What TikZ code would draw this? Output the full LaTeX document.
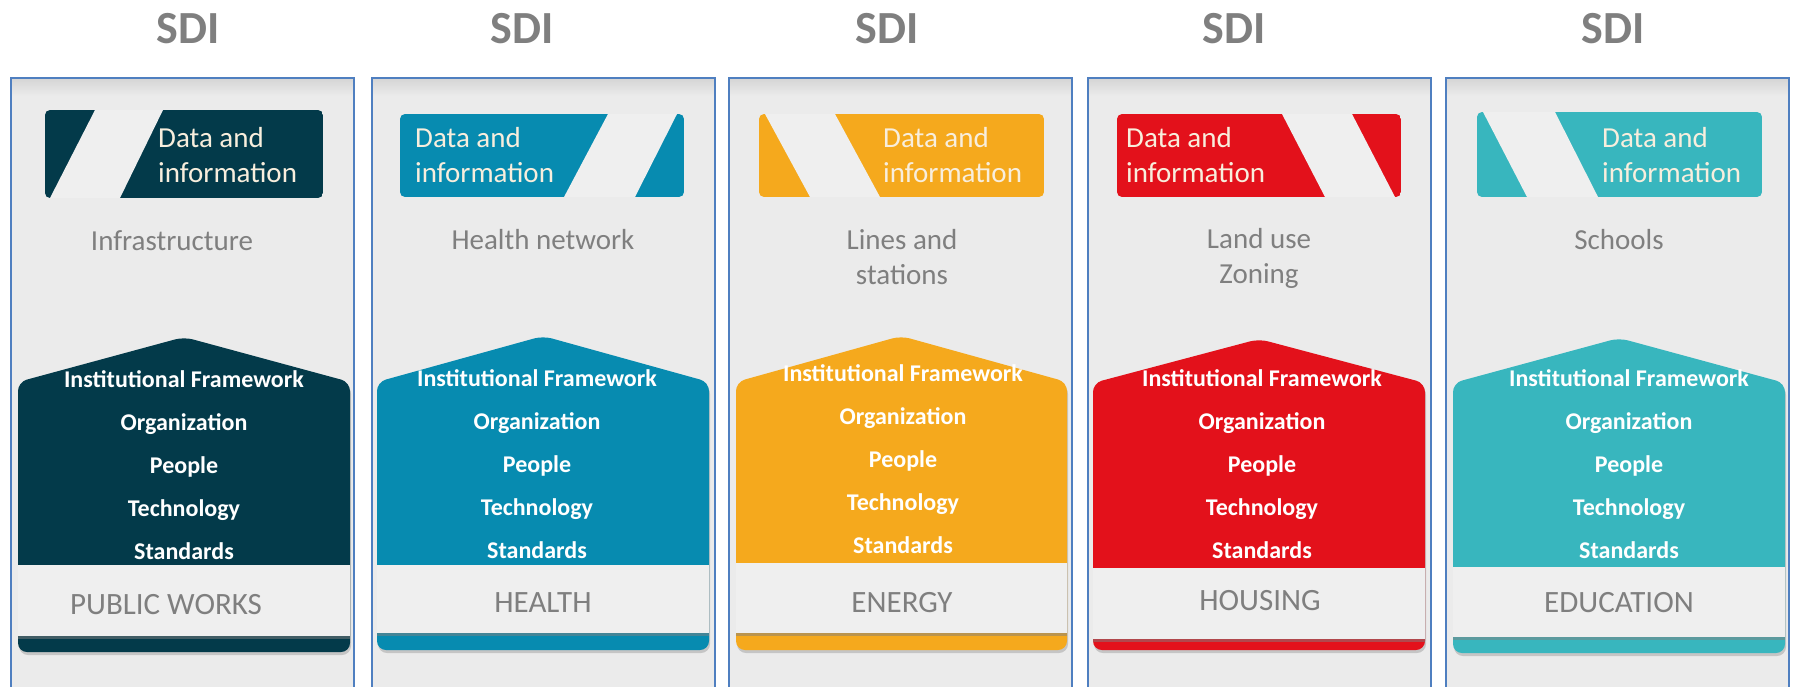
\documentclass[tikz,border=0pt]{standalone}
\usepackage{fontspec}
\setmainfont{Carlito}
\usetikzlibrary{shadows}
\definecolor{cA}{HTML}{033A4A}
\definecolor{cB}{HTML}{078BB0}
\definecolor{cC}{HTML}{F5A91D}
\definecolor{cD}{HTML}{E3111B}
\definecolor{cE}{HTML}{38B6BE}
\definecolor{panelbg}{HTML}{EBEBEB}
\definecolor{panelblue}{HTML}{4F7FC0}
\definecolor{shadegray}{HTML}{D6D6D6}
\definecolor{stripegray}{HTML}{EFEFEF}
\definecolor{subgray}{HTML}{7F7F7F}
\definecolor{cream}{HTML}{F8EEDD}
\begin{document}
\begin{tikzpicture}[x=1pt,y=-1pt,
  panelline/.style={draw=panelblue, line width=1.5pt},
  sditxt/.style={font=\bfseries\fontsize{46}{46}\selectfont, text=subgray, anchor=base, inner sep=0pt},
  datatxt/.style={font=\fontsize{29}{35}\selectfont, text=cream, align=left, anchor=base west, inner sep=0pt},
  subtxt/.style={font=\fontsize{29}{35}\selectfont, text=subgray, align=center, anchor=base, inner sep=0pt},
  housetxt/.style={font=\bfseries\fontsize{24}{43}\selectfont, text=white, align=center, anchor=base, inner sep=0pt},
  lbltxt/.style={font=\fontsize{31}{31}\selectfont, text=subgray, anchor=base, inner sep=0pt},
  housebody/.style={rounded corners=9pt, drop shadow={shadow xshift=1pt, shadow yshift=-3pt, opacity=0.35}},
  whitebox/.style={fill=stripegray, drop shadow={shadow xshift=0pt, shadow yshift=-3pt, opacity=0.5}},
  stripe/.style={fill=stripegray}
]
\useasboundingbox (0,0) rectangle (1793,686);
\fill[white] (0,0) rectangle (1793,686);
\clip (0,0) rectangle (1793,686);

% ---------- panels ----------
\foreach \L in {11,372,729,1088,1446}{
  \fill[panelbg] (\L,78) rectangle ({\L+343},700);
  \shade[top color=shadegray, bottom color=panelbg] (\L,79) rectangle ({\L+343},96);
  \draw[panelline] (\L,700) -- (\L,78) -- ({\L+343},78) -- ({\L+343},700);
}

% ---------- SDI titles ----------
\node[sditxt] (sdi1) at (188,43) {SDI};
\node[sditxt] (sdi2) at (522,43) {SDI};
\node[sditxt] (sdi3) at (887,43) {SDI};
\node[sditxt] (sdi4) at (1234,43) {SDI};
\node[sditxt] (sdi5) at (1613,43) {SDI};

% ---------- data boxes ----------
\begin{scope}
  \clip[rounded corners=5pt] (45,110) rectangle (323,198);
  \fill[cA] (45,110) rectangle (323,198);
  \fill[stripe] (95,110) -- (163,110) -- (120,198) -- (50,198) -- cycle;
\end{scope}
\begin{scope}
  \clip[rounded corners=5pt] (400,114) rectangle (684,197);
  \fill[cB] (400,114) rectangle (684,197);
  \fill[stripe] (608,114) -- (677,114) -- (635,197) -- (564,197) -- cycle;
\end{scope}
\begin{scope}
  \clip[rounded corners=5pt] (759,114) rectangle (1044,197);
  \fill[cC] (759,114) rectangle (1044,197);
  \fill[stripe] (765,114) -- (835,114) -- (880,197) -- (810,197) -- cycle;
\end{scope}
\begin{scope}
  \clip[rounded corners=5pt] (1117,114) rectangle (1401,197);
  \fill[cD] (1117,114) rectangle (1401,197);
  \fill[stripe] (1282,114) -- (1352,114) -- (1395,197) -- (1325,197) -- cycle;
\end{scope}
\begin{scope}
  \clip[rounded corners=5pt] (1477,112) rectangle (1762,197);
  \fill[cE] (1477,112) rectangle (1762,197);
  \fill[stripe] (1483,112) -- (1555,112) -- (1598,197) -- (1527,197) -- cycle;
\end{scope}

% base anchor of a multi-line node = baseline of its last line
\node[datatxt] (d1) at (158,182) {Data and\\information};
\node[datatxt] (d2) at (415,182) {Data and\\information};
\node[datatxt] (d3) at (883,182) {Data and\\information};
\node[datatxt] (d4) at (1126,182) {Data and\\information};
\node[datatxt] (d5) at (1602,182) {Data and\\information};

% ---------- subtitles ----------
\node[subtxt] (s1) at (172,250) {Infrastructure};
\node[subtxt] (s2) at (543,249) {Health network};
\node[subtxt] (s3) at (902,284) {Lines and\\stations};
\node[subtxt] (s4) at (1259,283) {Land use\\Zoning};
\node[subtxt] (s5) at (1619,249) {Schools};

% ---------- houses ----------
\fill[cA, housebody] (18,382) -- (184,337) -- (350,382) -- (350,652) -- (18,652) -- cycle;
\fill[whitebox] (18,565) rectangle (350,636);
\fill[cB, housebody] (377,382) -- (543,336) -- (709,382) -- (709,650) -- (377,650) -- cycle;
\fill[whitebox] (377,565) rectangle (709,633);
\fill[cC, housebody] (736,382) -- (901,336) -- (1067,382) -- (1067,650) -- (736,650) -- cycle;
\fill[whitebox] (736,563) rectangle (1067,633);
\fill[cD, housebody] (1093,383) -- (1259,339) -- (1425,383) -- (1425,650) -- (1093,650) -- cycle;
\fill[whitebox] (1093,568) rectangle (1425,639);
\fill[cE, housebody] (1453,383) -- (1619,338) -- (1785,383) -- (1785,653) -- (1453,653) -- cycle;
\fill[whitebox] (1453,567) rectangle (1785,637);

\node[housetxt] (h1) at (184,559) {Institutional Framework\\Organization\\People\\Technology\\Standards};
\node[housetxt] (h2) at (537,558) {Institutional Framework\\Organization\\People\\Technology\\Standards};
\node[housetxt] (h3) at (903,553) {Institutional Framework\\Organization\\People\\Technology\\Standards};
\node[housetxt] (h4) at (1262,558) {Institutional Framework\\Organization\\People\\Technology\\Standards};
\node[housetxt] (h5) at (1629,558) {Institutional Framework\\Organization\\People\\Technology\\Standards};

% ---------- sector labels ----------
\node[lbltxt] (l1) at (166,614) {PUBLIC WORKS};
\node[lbltxt] (l2) at (543,612) {HEALTH};
\node[lbltxt] (l3) at (902,612) {ENERGY};
\node[lbltxt] (l4) at (1260,610) {HOUSING};
\node[lbltxt] (l5) at (1619,612) {EDUCATION};
\end{tikzpicture}
\end{document}
